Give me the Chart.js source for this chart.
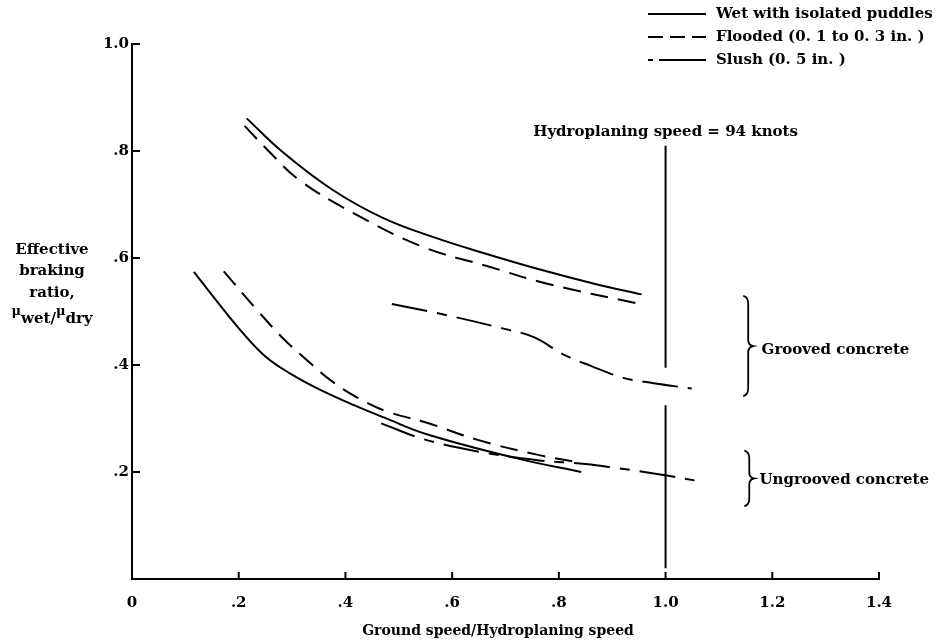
<!DOCTYPE html>
<html>
<head>
<meta charset="utf-8">
<script src="https://cdn.jsdelivr.net/npm/chart.js@4.4.0/dist/chart.umd.min.js"></script>
<style>
  html, body { margin: 0; padding: 0; background: #fff; }
  #wrap { width: 940px; height: 643px; }
</style>
</head>
<body>
<div id="wrap"><canvas id="chart" width="940" height="643"></canvas></div>
<script>
// Effective braking ratio vs ground speed / hydroplaning speed

// Grooved concrete
const groovedWetX = [0.215, 0.28, 0.375, 0.47, 0.565, 0.66, 0.77, 0.87, 0.955];
const groovedWetY = [0.861, 0.80, 0.728, 0.675, 0.639, 0.609, 0.577, 0.551, 0.532];
const groovedFloodX = [0.211, 0.255, 0.313, 0.413, 0.542, 0.665, 0.782, 0.948];
const groovedFloodY = [0.847, 0.801, 0.746, 0.685, 0.622, 0.585, 0.551, 0.515];
const groovedSlushX = [0.487, 0.586, 0.696, 0.753, 0.81, 0.861, 0.921, 0.978, 1.049];
const groovedSlushY = [0.514, 0.494, 0.468, 0.452, 0.419, 0.398, 0.376, 0.366, 0.356];

// Ungrooved concrete
const ungroovedWetX = [0.116, 0.16, 0.206, 0.25, 0.3, 0.35, 0.416, 0.472, 0.554, 0.723, 0.842];
const ungroovedWetY = [0.574, 0.518, 0.462, 0.416, 0.382, 0.355, 0.325, 0.302, 0.27, 0.225, 0.2];
const ungroovedFloodX = [0.172, 0.235, 0.281, 0.32, 0.377, 0.43, 0.478, 0.553, 0.648, 0.761, 0.836];
const ungroovedFloodY = [0.575, 0.502, 0.452, 0.416, 0.368, 0.335, 0.313, 0.292, 0.26, 0.232, 0.218];
const ungroovedSlushX = [0.467, 0.548, 0.65, 0.76, 0.85, 0.911, 0.987, 1.062];
const ungroovedSlushY = [0.291, 0.261, 0.238, 0.222, 0.215, 0.207, 0.196, 0.183];

// Hydroplaning speed marker (gap where the slush curve crosses)
const hydroX = [1.0, 1.0, 1.0, 1.0, 1.0];
const hydroY = [0.81, 0.395, null, 0.325, 0.02];

const legendLabels = ['Wet with isolated puddles', 'Flooded (0. 1 to 0. 3 in. )', 'Slush (0. 5 in. )'];
const xTickValues = [0, 0.2, 0.4, 0.6, 0.8, 1.0, 1.2, 1.4];
const xTickLabels = ['0', '.2', '.4', '.6', '.8', '1.0', '1.2', '1.4'];
const yTickValues = [0.2, 0.4, 0.6, 0.8, 1.0];
const yTickLabels = ['.2', '.4', '.6', '.8', '1.0'];

const FONT = '"DejaVu Serif", serif';
const DASH_FLOOD = [18, 10];
const DASH_SLUSH = [36, 10, 10, 10];

function pts(xs, ys) {
  return xs.map((x, i) => ({ x: x, y: ys[i] }));
}

function curve(label, xs, ys, dash) {
  return {
    label: label,
    data: pts(xs, ys),
    borderColor: '#000',
    borderWidth: 2,
    borderDash: dash,
    pointRadius: 0,
    fill: false,
    tension: 0.4
  };
}

// Draw tick marks, legend, notes and axis titles on top of the chart
const decorations = {
  id: 'decorations',
  afterDraw(chart) {
    const ctx = chart.ctx;
    const xs = chart.scales.x;
    const ys = chart.scales.y;
    const area = chart.chartArea;
    ctx.save();
    ctx.strokeStyle = '#000';
    ctx.fillStyle = '#000';
    ctx.lineWidth = 2;

    // inward tick marks
    xTickValues.forEach(v => {
      if (v === 0) return;
      const px = xs.getPixelForValue(v);
      ctx.beginPath();
      ctx.moveTo(px, area.bottom);
      ctx.lineTo(px, area.bottom - 7);
      ctx.stroke();
    });
    yTickValues.forEach(v => {
      const py = ys.getPixelForValue(v);
      ctx.beginPath();
      ctx.moveTo(area.left, py);
      ctx.lineTo(area.left + 8, py);
      ctx.stroke();
    });

    // legend (top right)
    ctx.font = 'bold 15px ' + FONT;
    ctx.textBaseline = 'middle';
    ctx.textAlign = 'left';
    const legendDash = [[], [15, 7], [5, 6, 47, 0]];
    const legendY = [14, 37, 60];
    legendLabels.forEach((lab, i) => {
      ctx.setLineDash(legendDash[i]);
      ctx.beginPath();
      ctx.moveTo(648, legendY[i]);
      ctx.lineTo(706, legendY[i]);
      ctx.stroke();
      ctx.setLineDash([]);
      ctx.fillText(lab, 716, legendY[i]);
    });

    // hydroplaning note
    ctx.textAlign = 'center';
    ctx.fillText('Hydroplaning speed = 94 knots', xs.getPixelForValue(1.0), ys.getPixelForValue(0.836));

    // surface braces
    function brace(xv, y1v, y2v) {
      const x = xs.getPixelForValue(xv);
      const y1 = ys.getPixelForValue(y1v);
      const y2 = ys.getPixelForValue(y2v);
      const m = (y1 + y2) / 2;
      ctx.lineWidth = 1.8;
      ctx.beginPath();
      ctx.moveTo(x - 4, y1);
      ctx.quadraticCurveTo(x + 1, y1 + 1, x + 1, y1 + 8);
      ctx.lineTo(x + 1, m - 6);
      ctx.quadraticCurveTo(x + 1, m - 1, x + 6, m);
      ctx.quadraticCurveTo(x + 1, m + 1, x + 1, m + 6);
      ctx.lineTo(x + 1, y2 - 8);
      ctx.quadraticCurveTo(x + 1, y2 - 1, x - 4, y2);
      ctx.stroke();
    }
    brace(1.153, 0.529, 0.342);
    brace(1.155, 0.24, 0.136);
    ctx.textAlign = 'left';
    ctx.fillText('Grooved concrete', xs.getPixelForValue(1.18), ys.getPixelForValue(0.428));
    ctx.fillText('Ungrooved concrete', xs.getPixelForValue(1.176), ys.getPixelForValue(0.185));

    // x axis title
    ctx.font = 'bold 14px ' + FONT;
    ctx.textAlign = 'center';
    ctx.fillText('Ground speed/Hydroplaning speed', 498, 631);

    // y axis title, stacked
    ctx.font = 'bold 15px ' + FONT;
    const cx = 52;
    ['Effective', 'braking', 'ratio,'].forEach((t, i) => {
      ctx.fillText(t, cx, 250 + i * 21.5);
    });
    const runs = [
      { t: '\u03bc', size: 13, dy: -8 },
      { t: 'wet', size: 15, dy: 0 },
      { t: '/', size: 15, dy: 0 },
      { t: '\u03bc', size: 13, dy: -8 },
      { t: 'dry', size: 15, dy: 0 }
    ];
    let total = 0;
    runs.forEach(r => {
      ctx.font = 'bold ' + r.size + 'px ' + FONT;
      r.w = ctx.measureText(r.t).width;
      total += r.w;
    });
    let x0 = cx - total / 2;
    ctx.textAlign = 'left';
    ctx.textBaseline = 'alphabetic';
    runs.forEach(r => {
      ctx.font = 'bold ' + r.size + 'px ' + FONT;
      ctx.fillText(r.t, x0, 323 + r.dy);
      x0 += r.w;
    });

    ctx.restore();
  }
};

new Chart(document.getElementById('chart'), {
  type: 'line',
  data: {
    datasets: [
      curve(legendLabels[0], groovedWetX, groovedWetY, []),
      curve(legendLabels[1], groovedFloodX, groovedFloodY, DASH_FLOOD),
      curve(legendLabels[2], groovedSlushX, groovedSlushY, DASH_SLUSH),
      curve(legendLabels[0], ungroovedWetX, ungroovedWetY, []),
      curve(legendLabels[1], ungroovedFloodX, ungroovedFloodY, DASH_FLOOD),
      curve(legendLabels[2], ungroovedSlushX, ungroovedSlushY, DASH_SLUSH),
      {
        label: 'Hydroplaning speed',
        data: pts(hydroX, hydroY),
        borderColor: '#000',
        borderWidth: 2,
        pointRadius: 0,
        tension: 0,
        spanGaps: false
      }
    ]
  },
  options: {
    responsive: false,
    animation: false,
    devicePixelRatio: 1,
    layout: { padding: { left: 0, top: 44, right: 61, bottom: 0 } },
    plugins: {
      legend: { display: false },
      tooltip: { enabled: false }
    },
    scales: {
      x: {
        type: 'linear',
        min: 0,
        max: 1.4,
        afterBuildTicks: s => { s.ticks = xTickValues.map(v => ({ value: v })); },
        afterFit: s => { s.height = 64; },
        ticks: {
          color: '#000',
          font: { family: FONT, size: 15, weight: 'bold' },
          padding: 15,
          maxRotation: 0,
          autoSkip: false,
          callback: (v, i) => xTickLabels[i]
        },
        grid: { drawOnChartArea: false, drawTicks: false },
        border: { display: true, color: '#000', width: 2 }
      },
      y: {
        type: 'linear',
        min: 0,
        max: 1.0,
        afterBuildTicks: s => { s.ticks = yTickValues.map(v => ({ value: v })); },
        afterFit: s => { s.width = 132; },
        ticks: {
          color: '#000',
          font: { family: FONT, size: 15, weight: 'bold' },
          padding: 3,
          autoSkip: false,
          callback: (v, i) => yTickLabels[i]
        },
        grid: { drawOnChartArea: false, drawTicks: false },
        border: { display: true, color: '#000', width: 2 }
      }
    }
  },
  plugins: [decorations]
});
</script>
</body>
</html>
